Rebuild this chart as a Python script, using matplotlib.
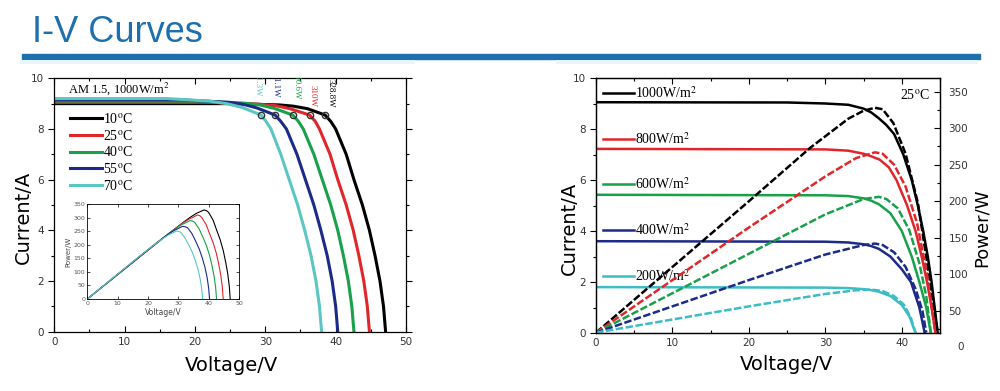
import numpy as np
import matplotlib
matplotlib.use("Agg")
from matplotlib import pyplot as plt
from matplotlib.patches import Rectangle
from matplotlib.ticker import MultipleLocator

plt.rcParams['mathtext.fontset'] = 'stix'

# ---- left panel: I-V curves at different temperatures (AM 1.5, 1000W/m2)
temps = ['10', '25', '40', '55', '70']
temp_colors = ['#000000', '#e0262a', '#18a04a', '#1c2a88', '#5cc6c0']
v_10 = [0, 25, 32, 34, 36, 38.5, 39.3, 40, 41.5, 42.6, 43.8, 44.8, 45.6, 46.3, 46.8, 47.1]
i_10 = [9.0, 9.0, 8.95, 8.9, 8.8, 8.55, 8.3, 8.0, 7.0, 6.0, 5.0, 4.0, 3.0, 2.0, 1.0, 0]
v_25 = [0, 22, 29, 31.5, 33.5, 36.3, 37.1, 37.7, 39.2, 40.3, 41.5, 42.5, 43.3, 44.0, 44.5, 44.8]
i_25 = [9.05, 9.05, 8.98, 8.92, 8.8, 8.55, 8.3, 8.0, 7.0, 6.0, 5.0, 4.0, 3.0, 2.0, 1.0, 0]
v_40 = [0, 20, 27, 29.2, 31.2, 33.9, 34.7, 35.4, 36.9, 38.1, 39.3, 40.3, 41.1, 41.8, 42.3, 42.6]
i_40 = [9.1, 9.1, 9.02, 8.95, 8.82, 8.55, 8.3, 8.0, 7.0, 6.0, 5.0, 4.0, 3.0, 2.0, 1.0, 0]
v_55 = [0, 18, 25, 26.9, 28.8, 31.4, 32.2, 33.0, 34.5, 35.7, 36.9, 37.9, 38.8, 39.5, 40.0, 40.3]
i_55 = [9.15, 9.15, 9.05, 8.97, 8.83, 8.55, 8.3, 8.0, 7.0, 6.0, 5.0, 4.0, 3.0, 2.0, 1.0, 0]
v_70 = [0, 16, 22, 24.5, 26.7, 29.4, 30.1, 30.8, 32.2, 33.4, 34.6, 35.6, 36.5, 37.2, 37.7, 38.0]
i_70 = [9.2, 9.2, 9.1, 9.0, 8.85, 8.55, 8.3, 8.0, 7.0, 6.0, 5.0, 4.0, 3.0, 2.0, 1.0, 0]
temp_v = [v_10, v_25, v_40, v_55, v_70]
temp_i = [i_10, i_25, i_40, i_55, i_70]

# maximum power points
mpp_v = [38.5, 36.3, 33.9, 31.4, 29.4]
mpp_i = [8.57, 8.57, 8.57, 8.57, 8.57]
mpp_labels = ['328.8W', '310W', '290.6W', '271.1W', '251.3W']
mpp_text_v = [39.2, 36.7, 34.4, 31.5, 28.9]
mpp_text_i = [8.85, 8.88, 9.16, 9.24, 9.28]

# ---- right panel: I-V and P-V curves at different irradiance (25C)
irr = ['1000', '800', '600', '400', '200']
irr_colors = ['#000000', '#e0262a', '#18a04a', '#1c2a88', '#3cbcc4']
iv_v_1000 = [0, 25, 30, 33, 35, 36, 37, 38, 39, 40.2, 41.3, 42.1, 42.8, 43.4, 43.9, 44.3, 44.7]
iv_i_1000 = [9.05, 9.04, 9.0, 8.95, 8.8, 8.65, 8.42, 8.15, 7.8, 7.0, 6.0, 5.0, 4.0, 3.0, 2.0, 1.0, 0]
iv_v_800 = [0, 30, 33, 35, 36, 37.1, 38.3, 39.3, 40.7, 41.8, 42.6, 43.3, 43.9, 44.4]
iv_i_800 = [7.22, 7.2, 7.15, 7.03, 6.93, 6.8, 6.5, 6.0, 5.0, 4.0, 3.0, 2.0, 1.0, 0]
iv_v_600 = [0, 30, 33, 35, 36, 37, 38.5, 40, 41.3, 42.3, 43.2, 43.8]
iv_i_600 = [5.42, 5.4, 5.37, 5.28, 5.19, 5.05, 4.7, 4.0, 3.0, 2.0, 1.0, 0]
iv_v_400 = [0, 30, 33, 35, 36, 37, 38.5, 40, 41.2, 42.3, 43.0]
iv_i_400 = [3.6, 3.58, 3.55, 3.48, 3.41, 3.3, 3.0, 2.5, 2.0, 1.0, 0]
iv_v_200 = [0, 30, 33, 35, 36, 37, 38.5, 40, 41, 41.8]
iv_i_200 = [1.8, 1.78, 1.76, 1.72, 1.68, 1.62, 1.45, 1.1, 0.65, 0]
irr_v = [iv_v_1000, iv_v_800, iv_v_600, iv_v_400, iv_v_200]
irr_i = [iv_i_1000, iv_i_800, iv_i_600, iv_i_400, iv_i_200]

pv_v_1000 = [0, 10, 20, 28, 33, 35, 36.5, 37.5, 38.9, 40.5, 42.1, 43.6, 44.7]
pv_p_1000 = [20, 110, 200, 273, 313, 324, 328, 326, 307, 265, 198, 97, 20]
pv_v_800 = [0, 10, 20, 30, 34, 36.5, 37.5, 39, 40.5, 42, 43.3, 44.4]
pv_p_800 = [20, 92, 164, 234, 259, 267, 265, 250, 220, 170, 100, 20]
pv_v_600 = [0, 10, 20, 30, 35, 37, 38, 39.5, 41, 42.3, 43.2, 43.8]
pv_p_600 = [20, 74, 128, 182, 203, 206, 203, 190, 160, 115, 70, 20]
pv_v_400 = [0, 10, 20, 30, 35, 36.5, 37.5, 39, 40.5, 41.8, 42.7, 43.2]
pv_p_400 = [20, 56, 92, 127, 140, 142, 140, 130, 110, 80, 50, 20]
pv_v_200 = [0, 10, 20, 30, 34, 36, 37.5, 39, 40.3, 41.2, 41.8]
pv_p_200 = [20, 38, 56, 73, 78, 79, 77, 70, 58, 40, 20]
pv_v = [pv_v_1000, pv_v_800, pv_v_600, pv_v_400, pv_v_200]
pv_p = [pv_p_1000, pv_p_800, pv_p_600, pv_p_400, pv_p_200]

serif = 'Liberation Serif'
tick_color = '#333333'

fig = plt.figure(figsize=(10, 3.91), dpi=100)

# header
fig.text(0.032, 1 - 42 / 391, 'I-V Curves', fontsize=26, color='#1d6fae',
         family='Liberation Sans', va='baseline')
fig.patches.append(Rectangle((0.022, 1 - 59 / 391), 0.958, 5 / 391,
                             transform=fig.transFigure, color='#1f6fae'))
fig.patches.append(Rectangle((0.020, 1 - 64 / 391), 0.395, 4 / 391,
                             transform=fig.transFigure, color='#e6f7fb', lw=0))
fig.patches.append(Rectangle((0.556, 1 - 64 / 391), 0.422, 4 / 391,
                             transform=fig.transFigure, color='#e6f7fb', lw=0))


def style_ticks(ax):
    ax.tick_params(which='both', labelsize=7.5, labelcolor=tick_color, width=0.8)
    ax.tick_params(which='major', length=4)
    ax.tick_params(which='minor', length=2.5)
    for s in ax.spines.values():
        s.set_linewidth(0.9)


# ---------------- left panel
ax1 = fig.add_axes([0.0543, 1 - 331.7 / 391, 0.3517, 253.4 / 391])
for k in range(len(temps)):
    ax1.plot(temp_v[k], temp_i[k], color=temp_colors[k], lw=2.2,
             label='%s$^\\mathrm{o}$C' % temps[k])
ax1.plot(mpp_v, mpp_i, 'o', ms=4.5, mfc='none', mec='#333333', mew=1.0)
for k in range(len(mpp_labels)):
    ax1.text(mpp_text_v[k], mpp_text_i[k], mpp_labels[k], rotation=-90,
             ha='center', va='bottom', fontsize=6.5, family=serif,
             color=temp_colors[k], clip_on=True)
ax1.set_xlim(0, 50)
ax1.set_ylim(0, 10)
ax1.xaxis.set_major_locator(MultipleLocator(10))
ax1.xaxis.set_minor_locator(MultipleLocator(5))
ax1.yaxis.set_major_locator(MultipleLocator(2))
ax1.yaxis.set_minor_locator(MultipleLocator(1))
ax1.tick_params(axis='x', which='both', direction='in', top=True)
ax1.tick_params(axis='y', which='both', direction='out', right=True)
style_ticks(ax1)
ax1.text(1.95, 9.59, 'AM 1.5, 1000W/m$^{2}$', fontsize=9, family=serif, va='center')
ax1.legend(loc='upper left', bbox_to_anchor=(0.063, 1 - 105 / 391),
           bbox_transform=fig.transFigure, frameon=False, borderpad=0,
           handlelength=2.3, handletextpad=0.1, labelspacing=0.2,
           prop={'family': serif, 'size': 10})

fig.text(0.2315, 1 - 371 / 391, 'Voltage/V', fontsize=14, ha='center', va='baseline')
fig.text(0.023, 1 - 217 / 391, 'Current/A', fontsize=14, ha='center', va='center',
         rotation=90)

# inset: power curves
ins = fig.add_axes([0.0873, 1 - 299 / 391, 0.1517, 94.7 / 391])
for k in range(len(temps)):
    ins.plot(temp_v[k], np.array(temp_v[k]) * np.array(temp_i[k]),
             color=temp_colors[k], lw=0.8)
ins.set_xlim(0, 50)
ins.set_ylim(0, 350)
ins.xaxis.set_major_locator(MultipleLocator(10))
ins.yaxis.set_major_locator(MultipleLocator(50))
ins.tick_params(which='both', direction='in', labelsize=4.5, labelcolor='#555555',
                length=2, width=0.5, pad=1.5, top=True, right=True)
for s in ins.spines.values():
    s.set_linewidth(0.6)
ins.set_xlabel('Voltage/V', fontsize=5.5, labelpad=1.5, color='#444444')
ins.set_ylabel('Power/W', fontsize=5, labelpad=1.5, color='#444444')

# ---------------- right panel
ax2 = fig.add_axes([0.596, 1 - 333 / 391, 0.344, 255 / 391])
ax3 = ax2.twinx()
for k in range(len(irr)):
    ax2.plot(irr_v[k], irr_i[k], color=irr_colors[k], lw=1.8,
             label='%sW/m$^{2}$' % irr[k])
    ax3.plot(pv_v[k], pv_p[k], color=irr_colors[k], lw=1.8, ls=(0, (3, 1)))
ax2.set_xlim(0, 45)
ax2.set_ylim(0, 10)
ax3.set_ylim(19.5, 368.8)
ax2.xaxis.set_major_locator(MultipleLocator(10))
ax2.xaxis.set_minor_locator(MultipleLocator(5))
ax2.yaxis.set_major_locator(MultipleLocator(2))
ax2.yaxis.set_minor_locator(MultipleLocator(1))
ax3.yaxis.set_major_locator(MultipleLocator(50))
ax3.yaxis.set_minor_locator(MultipleLocator(25))
ax2.tick_params(axis='x', which='both', direction='in', top=True)
ax2.tick_params(axis='y', which='both', direction='out')
ax3.tick_params(axis='y', which='both', direction='in')
style_ticks(ax2)
style_ticks(ax3)
ax3.tick_params(axis='y', which='both', pad=6)
ax3.text(1.05, 0, '0', transform=ax3.get_yaxis_transform(), fontsize=7.5,
         color=tick_color, ha='left', va='center', clip_on=False)
ax2.text(41.7, 9.33, '25$^\\mathrm{o}$C', fontsize=10, family=serif, ha='center',
         va='center')
ax2.legend(loc='upper left', bbox_to_anchor=(0.596, 1 - 78 / 391),
           bbox_transform=fig.transFigure, frameon=False, borderpad=0,
           handlelength=2.2, handletextpad=0.1, labelspacing=2.16,
           prop={'family': serif, 'size': 10})

fig.text(0.786, 1 - 370 / 391, 'Voltage/V', fontsize=14, ha='center', va='baseline')
fig.text(0.569, 1 - 228 / 391, 'Current/A', fontsize=14, ha='center', va='center',
         rotation=90)
fig.text(0.982, 1 - 228 / 391, 'Power/W', fontsize=13, ha='center', va='center',
         rotation=90)

fig.savefig('out.png', dpi=100)
